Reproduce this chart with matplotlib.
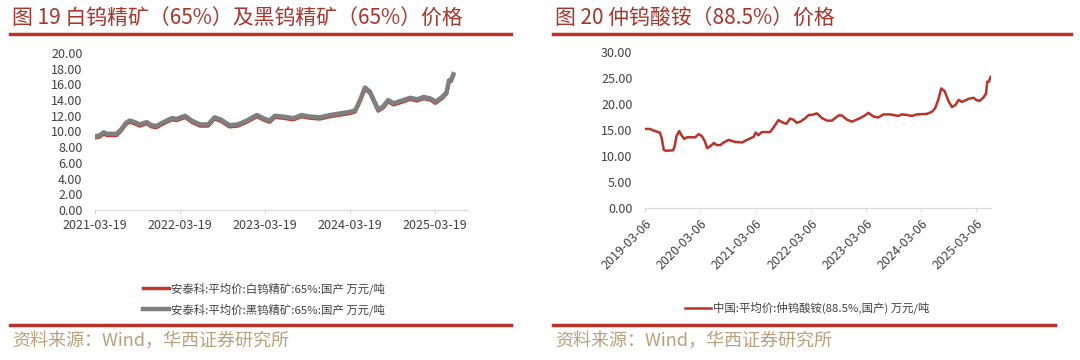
import matplotlib
matplotlib.use("Agg")
import matplotlib.pyplot as plt
import matplotlib.dates as mdates
import pandas as pd

plt.rcParams['font.family'] = ['Noto Sans CJK SC', 'DejaVu Sans']

# ---- left chart: white / black tungsten concentrate (65%)
left_dates = ["2021-03-19", "2021-04-08", "2021-04-26", "2021-05-08", "2021-06-20", "2021-07-10",
              "2021-07-30", "2021-08-15", "2021-09-05", "2021-09-27", "2021-10-27", "2021-11-17",
              "2021-12-08", "2022-01-08", "2022-02-12", "2022-03-05", "2022-04-10", "2022-05-08",
              "2022-06-13", "2022-07-18", "2022-08-15", "2022-09-12", "2022-10-18", "2022-11-23",
              "2023-01-01", "2023-02-13", "2023-03-19", "2023-04-09", "2023-05-01", "2023-06-05",
              "2023-07-19", "2023-08-24", "2023-09-28", "2023-11-10", "2023-12-25", "2024-02-05",
              "2024-03-19", "2024-04-10", "2024-05-01", "2024-05-22", "2024-06-12", "2024-07-18",
              "2024-08-08", "2024-08-30", "2024-09-22", "2024-11-03", "2024-12-03", "2025-01-01",
              "2025-01-30", "2025-02-28", "2025-03-21", "2025-04-19", "2025-05-08", "2025-05-18",
              "2025-05-28", "2025-06-06"]
black_wo = [9.4, 9.5, 9.9, 9.7, 9.7, 10.3, 11.1, 11.4, 11.2, 10.9, 11.2, 10.8,
            10.7, 11.2, 11.7, 11.6, 12.0, 11.4, 10.9, 10.9, 11.8, 11.5, 10.8, 10.9,
            11.4, 12.1, 11.6, 11.4, 12.0, 11.9, 11.7, 12.1, 11.9, 11.8, 12.1, 12.3,
            12.5, 12.7, 14.0, 15.6, 15.1, 12.8, 13.2, 14.0, 13.6, 14.0, 14.3, 14.1,
            14.4, 14.2, 13.8, 14.4, 15.0, 16.5, 16.6, 17.3]
white_wo = [9.2, 9.3, 9.7, 9.5, 9.5, 10.1, 10.9, 11.2, 11.0, 10.7, 11.0, 10.6,
            10.5, 11.0, 11.5, 11.4, 11.8, 11.2, 10.7, 10.7, 11.6, 11.3, 10.6, 10.7,
            11.2, 11.9, 11.4, 11.2, 11.8, 11.7, 11.5, 11.9, 11.7, 11.6, 11.9, 12.1,
            12.3, 12.5, 13.8, 15.4, 14.9, 12.6, 13.0, 13.8, 13.4, 13.8, 14.1, 13.9,
            14.2, 14.0, 13.6, 14.2, 14.8, 16.3, 16.4, 17.1]
left_ticks = ["2021-03-19", "2022-03-19", "2023-03-19", "2024-03-19", "2025-03-19"]

# ---- right chart: APT (88.5%)
apt_dates = ["2019-03-06", "2019-04-07", "2019-05-10", "2019-06-01", "2019-06-12", "2019-06-24",
             "2019-07-08", "2019-07-22", "2019-09-08", "2019-09-19", "2019-09-30", "2019-10-18",
             "2019-11-02", "2019-11-20", "2019-12-10", "2020-02-01", "2020-02-24", "2020-03-17",
             "2020-04-05", "2020-04-20", "2020-05-12", "2020-06-03", "2020-06-22", "2020-07-16",
             "2020-08-07", "2020-09-08", "2020-10-23", "2020-12-07", "2021-01-08", "2021-02-22",
             "2021-03-06", "2021-03-25", "2021-04-16", "2021-06-10", "2021-07-01", "2021-08-04",
             "2021-09-05", "2021-09-27", "2021-10-20", "2021-11-10", "2021-12-03", "2021-12-27",
             "2022-01-30", "2022-02-21", "2022-03-14", "2022-04-16", "2022-05-19", "2022-06-21",
             "2022-07-24", "2022-09-06", "2022-09-28", "2022-10-31", "2022-12-03", "2023-01-27",
             "2023-02-28", "2023-03-22", "2023-04-24", "2023-05-27", "2023-06-29", "2023-08-13",
             "2023-10-07", "2023-10-28", "2023-12-02", "2024-01-04", "2024-02-06", "2024-04-12",
             "2024-05-15", "2024-06-06", "2024-06-28", "2024-07-16", "2024-08-07", "2024-09-03",
             "2024-09-25", "2024-10-17", "2024-11-08", "2024-11-30", "2025-01-13", "2025-02-14",
             "2025-03-08", "2025-03-26", "2025-04-20", "2025-05-08", "2025-05-16", "2025-05-27",
             "2025-06-07"]
apt_price = [15.2, 15.2, 14.8, 14.6, 14.5, 13.5, 11.2, 11.0, 11.1, 12.0, 13.8, 14.8,
             14.0, 13.3, 13.6, 13.6, 14.2, 13.8, 12.8, 11.5, 11.9, 12.5, 12.1, 12.1,
             12.6, 13.1, 12.7, 12.6, 13.1, 13.7, 14.5, 14.0, 14.6, 14.6, 15.4, 16.9,
             16.4, 16.2, 17.2, 17.0, 16.4, 16.6, 17.3, 17.9, 17.9, 18.2, 17.3, 16.8,
             16.8, 17.8, 17.8, 17.0, 16.6, 17.3, 17.8, 18.3, 17.6, 17.4, 18.0, 18.0,
             17.7, 18.0, 17.9, 17.7, 18.0, 18.1, 18.5, 19.2, 21.0, 23.0, 22.5, 20.5,
             19.4, 19.8, 20.8, 20.4, 21.0, 21.2, 20.7, 20.6, 21.2, 22.0, 24.3, 24.3,
             25.2]
apt_ticks = ["2019-03-06", "2020-03-06", "2021-03-06", "2022-03-06", "2023-03-06",
             "2024-03-06", "2025-03-06"]

RED = '#b8342a'
GRAY = '#7f7f7f'
TXT = '#404040'
SRC = '#b8a07a'


def style_axis(ax, ticks, lim, ymax, ystep):
    ax.set_xlim(pd.to_datetime(lim[0]), pd.to_datetime(lim[1]))
    ax.set_ylim(0, ymax)
    ax.set_yticks([i * ystep for i in range(int(ymax / ystep) + 1)])
    ax.yaxis.set_major_formatter(matplotlib.ticker.FormatStrFormatter('%.2f'))
    ax.set_xticks(pd.to_datetime(ticks))
    ax.xaxis.set_major_formatter(mdates.DateFormatter('%Y-%m-%d'))
    for s in ['top', 'right', 'left']:
        ax.spines[s].set_visible(False)
    ax.spines['bottom'].set_color('#d9d9d9')
    ax.tick_params(axis='y', length=0, labelsize=9, labelcolor=TXT, pad=9)
    ax.tick_params(axis='x', length=3, color='#d9d9d9', labelsize=9, labelcolor=TXT)


fig = plt.figure(figsize=(10.8, 3.6), dpi=100)

# left
ax1 = fig.add_axes([95 / 1080, 150 / 360, 373 / 1080, 157 / 360])
ax1.plot(pd.to_datetime(left_dates), white_wo, color='#c0392b', lw=2.5,
         label='安泰科:平均价:白钨精矿:65%:国产 万元/吨')
ax1.plot(pd.to_datetime(left_dates), black_wo, color=GRAY, lw=3.2,
         label='安泰科:平均价:黑钨精矿:65%:国产 万元/吨')
style_axis(ax1, left_ticks, ("2021-03-19", "2025-08-08"), 20, 2)
ax1.legend(loc='center', bbox_to_anchor=(264 / 1080, 1 - 299 / 360), bbox_transform=fig.transFigure,
           frameon=False, fontsize=8.2, labelcolor=TXT, handlelength=2.3, handletextpad=0.2,
           labelspacing=0.75)

# right
ax2 = fig.add_axes([645 / 1080, 152 / 360, 346 / 1080, 156 / 360])
ax2.plot(pd.to_datetime(apt_dates), apt_price, color=RED, lw=1.8,
         label='中国:平均价:仲钨酸铵(88.5%,国产) 万元/吨')
style_axis(ax2, apt_ticks, ("2019-03-06", "2025-06-10"), 30, 5)
plt.setp(ax2.get_xticklabels(), rotation=45, ha='right', rotation_mode='anchor')
ax2.legend(loc='center', bbox_to_anchor=(807 / 1080, 1 - 308 / 360), bbox_transform=fig.transFigure,
           frameon=False, fontsize=8.2, labelcolor=TXT, handlelength=2.3, handletextpad=0.2)

# titles, rules and source lines
titles = ['图 19 白钨精矿（65%）及黑钨精矿（65%）价格', '图 20 仲钨酸铵（88.5%）价格']
for x0, x1, t in [(10, 511, titles[0]), (553, 1071, titles[1])]:
    fig.text(x0 / 1080 + 0.002, 1 - 19 / 360, t, fontsize=15, color='#a8342a', va='center')
    fig.add_artist(plt.Line2D([x0 / 1080, x1 / 1080], [1 - 34 / 360] * 2, color=RED, lw=2.5))
for x0, x1 in [(10, 511), (553, 1055)]:
    fig.add_artist(plt.Line2D([x0 / 1080, x1 / 1080], [1 - 325 / 360] * 2, color=RED, lw=2.5))
    fig.text(x0 / 1080 + 0.002, 1 - 341 / 360, '资料来源：Wind，华西证券研究所', fontsize=13,
             color=SRC, va='center')

fig.savefig('out.png', dpi=100)
